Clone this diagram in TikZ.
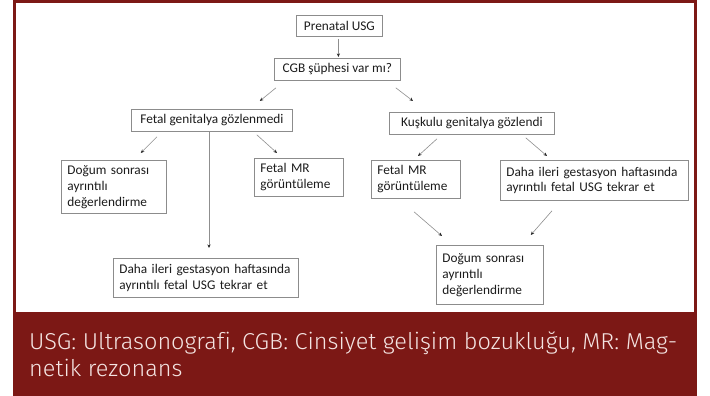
\documentclass[tikz,border=0pt]{standalone}
\usepackage{fontspec}
\setmainfont{Carlito}
\newfontfamily\capfont[Ligatures=NoCommon]{Fira Sans Light}
\usetikzlibrary{arrows.meta,calc}
\definecolor{framecol}{HTML}{7C1815}
\definecolor{captxt}{HTML}{F4E4E2}
\definecolor{boxln}{HTML}{8C8C8C}
\definecolor{arrln}{HTML}{8F8F8F}
\definecolor{txt}{HTML}{1C1C1C}
\newsavebox\capbox
\newlength\capwd
\begin{document}
\sbox\capbox{\capfont\fontsize{23}{27}\selectfont USG: Ultrasonografi, CGB: Cinsiyet gelişim bozukluğu, MR: Mag-}%
\setlength\capwd{\wd\capbox}%
\pgfmathsetmacro\cx{648/\capwd}%
\begin{tikzpicture}[x=1pt,y=-1pt,
  box/.style={draw=boxln,line width=0.8pt,text=txt,font=\fontsize{13.3}{15.8}\selectfont,
    inner sep=0pt,anchor=north west},
  mbox/.style={box,align=left,inner xsep=6pt},
  arr/.style={draw=arrln,line width=0.6pt,-{Stealth[length=3.6pt,width=3.2pt,color=black!85]}},
  captext/.style={anchor=base west,text=captxt,inner sep=0pt}]
\useasboundingbox (0,0) rectangle (710,396);
\fill[white] (0,0) rectangle (710,396);
% frame and caption band
\draw[framecol,line width=2.6pt] (14.3,-2) -- (14.3,1.3) -- (695.6,1.3) -- (695.6,313);
\draw[framecol,line width=2.6pt] (14.3,1.3) -- (14.3,313);
\fill[framecol] (13,312) rectangle (697,396);
\node[captext,font=\capfont\fontsize{23}{27}\selectfont] (cap1) at (29,349)
  {\scalebox{\cx}[1]{USG: Ultrasonografi, CGB: Cinsiyet gelişim bozukluğu, MR: Mag-}};
\node[captext,font=\capfont\fontsize{23}{27}\selectfont] (cap2) at (29,376)
  {\scalebox{\cx}[1]{netik rezonans}};
% boxes
\node[box,minimum width=86pt,minimum height=21pt] (A) at (296,15) {Prenatal USG};
\node[box,minimum width=126pt,minimum height=22pt] (B) at (274,58) {CGB şüphesi var mı?};
\node[box,minimum width=161pt,minimum height=22pt] (C) at (131,109) {Fetal genitalya gözlenmedi};
\node[box,minimum width=165pt,minimum height=22pt] (D) at (389,112) {Kuşkulu genitalya gözlendi};
\node[mbox,text width=93pt,minimum height=53pt] (E) at (61,160) {Doğum sonrası\\ayrıntılı\\değerlendirme};
\node[mbox,text width=77pt,minimum height=38pt] (F) at (254,158) {Fetal MR\\görüntüleme};
\node[mbox,text width=173pt,minimum height=39pt] (G) at (113,258) {Daha ileri gestasyon haftasında\\ayrıntılı fetal USG tekrar et};
\node[mbox,text width=77pt,minimum height=38pt] (H) at (371,160) {Fetal MR\\görüntüleme};
\node[mbox,text width=176pt,minimum height=40pt] (I) at (500,160) {Daha ileri gestasyon haftasında\\ayrıntılı fetal USG tekrar et};
\node[mbox,text width=95pt,minimum height=59pt] (J) at (436,245) {Doğum sonrası\\ayrıntılı\\değerlendirme};
% connectors
\draw[arr] ($(A.south)+(-1,2)$) -- ($(B.north)+(1,-1)$);
\draw[arr] ($(B.south west)+(2,7)$) -- ($(C.north east)+(-33,-8)$);
\draw[arr] ($(B.south east)+(-5,7)$) -- ($(D.north west)+(24,-11)$);
\draw[arr] ($(C.south west)+(26,5)$) -- ($(E.north east)+(-26,-7)$);
\draw[arr] ($(C.south west)+(78,0)$) -- ($(G.north west)+(96,-10)$);
\draw[arr] ($(C.south east)+(-36,3)$) -- ($(F.north west)+(23,-5)$);
\draw[arr] ($(D.south west)+(48,4)$) -- ($(H.north west)+(47,-4)$);
\draw[arr] ($(D.south east)+(-29,3)$) -- ($(I.north west)+(47,-4)$);
\draw[arr] ($(H.south west)+(43,13)$) -- ($(J.north west)+(6,-9)$);
\draw[arr] ($(I.south west)+(52,10)$) -- ($(J.north east)+(-13,-10)$);
\end{tikzpicture}
\end{document}
